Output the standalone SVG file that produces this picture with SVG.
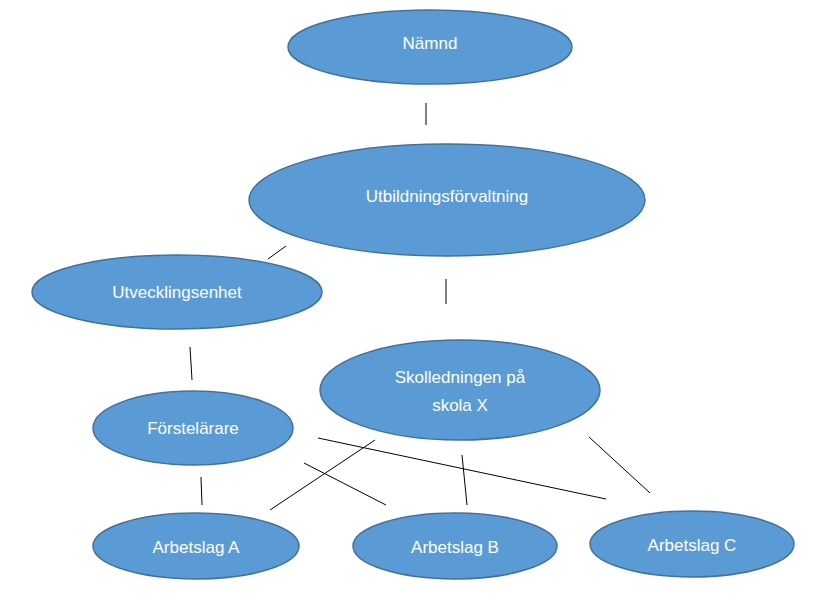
<svg xmlns="http://www.w3.org/2000/svg" width="815" height="595" viewBox="0 0 815 595">
<style>
.n{fill:#5B9BD5;stroke:#41719C;stroke-width:1.5}
.t{fill:#fff;font-family:"Liberation Sans",Arial,sans-serif;font-size:17px;text-anchor:middle}
.c line{stroke:#000;stroke-width:1}
.w{fill:none;stroke:#e03030;stroke-width:1}
</style>
<rect width="815" height="595" fill="#fff"/>
<g class="c">
<line x1="426" y1="103" x2="426" y2="125"/>
<line x1="286" y1="246" x2="268" y2="259"/>
<line x1="446" y1="279" x2="446" y2="304"/>
<line x1="190" y1="347" x2="192" y2="380"/>
<line x1="201" y1="477" x2="202" y2="505"/>
<line x1="375" y1="440" x2="270" y2="510"/>
<line x1="304" y1="463" x2="386" y2="505"/>
<line x1="318" y1="438" x2="606" y2="499"/>
<line x1="462" y1="455" x2="467" y2="505"/>
<line x1="589" y1="437" x2="650" y2="493"/>
</g>
<g id="namnd"><ellipse class="n" cx="430" cy="47" rx="142" ry="37"/><text class="t" x="430" y="49">Nämnd</text></g>
<g id="utbf"><ellipse class="n" cx="447" cy="200" rx="198" ry="56"/><text class="t" x="447" y="202">Utbildningsförvaltning</text></g>
<g id="utv"><ellipse class="n" cx="177" cy="292" rx="145" ry="37"/><text class="t" x="177" y="298">Utvecklingsenhet</text></g>
<g id="skol"><ellipse class="n" cx="460" cy="390" rx="140" ry="50"/><text class="t" x="460" y="383">Skolledningen  på</text><text class="t" x="460" y="411">skola X</text></g>
<g id="forst"><ellipse class="n" cx="193" cy="428" rx="100" ry="37"/><text class="t" x="193" y="434">Förstelärare</text></g>
<g id="a"><ellipse class="n" cx="196" cy="546" rx="103" ry="33"/><text class="t" x="196" y="553">Arbetslag A</text></g>
<g id="b"><ellipse class="n" cx="455" cy="546" rx="102" ry="33"/><text class="t" x="455" y="553">Arbetslag B</text></g>
<g id="cc"><ellipse class="n" cx="692" cy="544" rx="102" ry="33"/><text class="t" x="692" y="551">Arbetslag C</text></g>
</svg>
